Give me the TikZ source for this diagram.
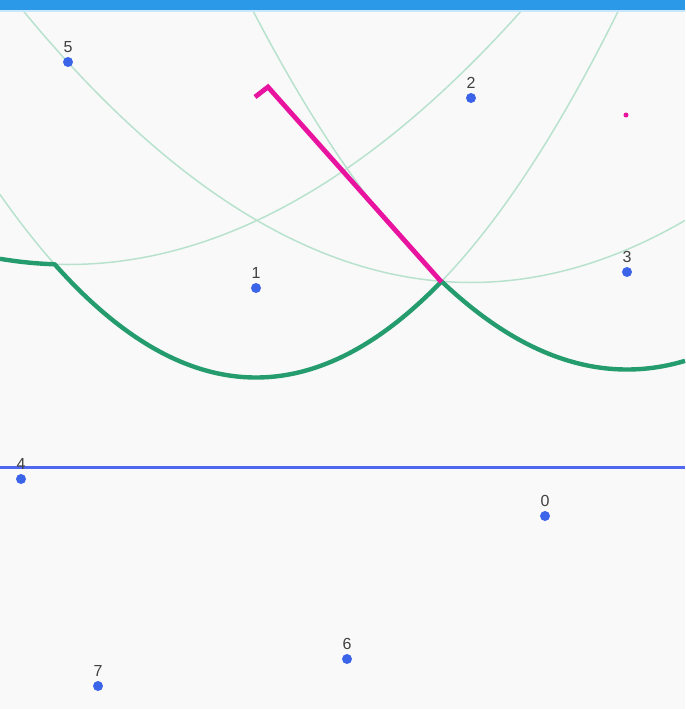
\documentclass[tikz,border=0pt]{standalone}
\usepackage{fontspec}
\setmainfont{Liberation Sans}
\definecolor{bgc}{RGB}{249,249,249}
\definecolor{barc}{RGB}{44,152,232}
\definecolor{barl}{RGB}{200,232,250}
\definecolor{parc}{RGB}{184,226,206}
\definecolor{beachc}{RGB}{36,156,110}
\definecolor{pinkc}{RGB}{232,20,160}
\definecolor{sweepc}{RGB}{80,104,240}
\definecolor{sitec}{RGB}{60,100,232}
\definecolor{labc}{RGB}{64,64,64}
\tikzset{
  parab/.style={draw=parc, line width=1.5pt},
  beach/.style={draw=beachc, line width=4.4pt, line join=round},
  edgepink/.style={draw=pinkc, line width=4.8pt, line join=miter},
  sitedot/.style={circle, fill=sitec, inner sep=0pt, minimum size=10pt},
  sitelab/.style={text=labc, font=\fontsize{16}{16}\selectfont, inner sep=0pt, anchor=base},
}
\begin{document}
\begin{tikzpicture}[x=1pt,y=-1pt]
\useasboundingbox (0,0) rectangle (685,709);
\fill[bgc] (0,0) rectangle (685,709);
% light parabolas
\begin{scope}
\clip (0,12) rectangle (685,709);
\draw[parab] plot[domain=0:525, samples=150] (\x, {264.5-(\x-68)/810*(\x-68)});
\draw[parab] plot[domain=20:685, samples=150] (\x, {282.5-(\x-471)/738*(\x-471)});
\draw[parab] plot[domain=0:622, samples=150] (\x, {377.5-(\x-256)/358*(\x-256)});
\draw[parab] plot[domain=248:685, samples=150] (\x, {369.5-(\x-627)/390*(\x-627)});
\end{scope}
% beach line
\draw[beach] plot[domain=0:54.7, samples=20] (\x, {264.5-(\x-68)/810*(\x-68)})
  -- plot[domain=54.7:441.5, samples=120] (\x, {377.5-(\x-256)/358*(\x-256)})
  -- plot[domain=441.5:685, samples=80] (\x, {369.5-(\x-627)/390*(\x-627)});
% voronoi edge
\coordinate (ve) at (268,87);
\coordinate (bp) at (441.5,282);
\coordinate (tick) at (255,97);
\draw[edgepink] (tick) -- (ve) -- (bp);
\node[circle, fill=pinkc, inner sep=0pt, minimum size=5pt] (cev) at (626,115) {};
% sweep line
\coordinate (swL) at (0,467);
\coordinate (swR) at (685,467);
\draw[sweepc, line width=3pt] (swL) -- (swR);
% sites
\foreach \n/\px/\py in {0/545/516, 1/256/288, 2/471/98, 3/627/272, 4/21/479, 5/68/62, 6/347/659, 7/98/686}{
  \node[sitedot] (s\n) at (\px,\py) {};
  \node[sitelab] (l\n) at (\px,\py-9.5) {\n};
}
% top bar
\fill[barl] (0,9) rectangle (685,12.5);
\fill[barc] (0,0) rectangle (685,10);
\end{tikzpicture}
\end{document}
